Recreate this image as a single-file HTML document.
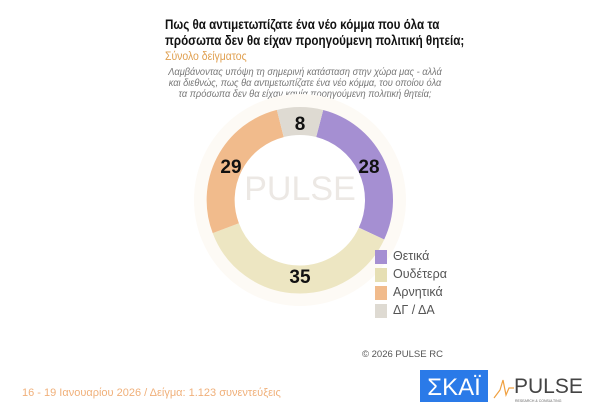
<!DOCTYPE html>
<html><head><meta charset="utf-8"><style>
body{margin:0;width:600px;height:415px;background:#fff;overflow:hidden;position:relative;font-family:"Liberation Sans",sans-serif}
.t{position:absolute;left:165px;top:16px;font-size:14px;font-weight:bold;color:#111;line-height:16px;white-space:nowrap;transform:scaleX(0.83);transform-origin:0 0}
.s{position:absolute;left:165px;top:49px;font-size:12px;color:#e0a050;white-space:nowrap;transform:scaleX(0.87);transform-origin:0 0}
.q{position:absolute;left:110px;top:67px;width:390px;text-align:center;font-size:10.5px;font-style:italic;color:#777;line-height:11px;white-space:nowrap;transform:scaleX(0.88);transform-origin:50% 0}
.lg{position:absolute;left:375px;font-size:12.5px;color:#555;height:16px;line-height:16px}
.lg i{display:inline-block;width:12px;height:14px;vertical-align:middle;margin-right:6px}
</style></head><body>
<div class="t">Πως θα αντιμετωπίζατε ένα νέο κόμμα που όλα τα<br>πρόσωπα δεν θα είχαν προηγούμενη πολιτική θητεία;</div>
<div class="s">Σύνολο δείγματος</div>
<div class="q">Λαμβάνοντας υπόψη τη σημερινή κατάσταση στην χώρα μας - αλλά<br>και διεθνώς, πως θα αντιμετωπίζατε ένα νέο κόμμα, του οποίου όλα<br>τα πρόσωπα δεν θα είχαν καμία προηγούμενη πολιτική θητεία;</div>
<svg width="600" height="415" style="position:absolute;left:0;top:0">
<circle cx="300" cy="200" r="99" fill="none" stroke="#fdfaf5" stroke-width="14"/>
<g fill="none" stroke-width="28">
<path d="M319.7,123.5 A79,79 0 0 1 371.5,233.6" stroke="#a58fd2"/>
<path d="M371.5,233.6 A79,79 0 0 1 225.8,228.2" stroke="#ede6c2"/>
<path d="M225.8,228.2 A79,79 0 0 1 280.3,123.5" stroke="#f1bb8c"/>
<path d="M280.3,123.5 A79,79 0 0 1 319.7,123.5" stroke="#dedad2"/>
</g>
<text x="300" y="200" text-anchor="middle" font-size="34" fill="#ece8e4" font-family="Liberation Sans">PULSE</text>
<g font-family="Liberation Sans" font-weight="bold" font-size="19" fill="#111" text-anchor="middle">
<text x="300" y="130">8</text><text x="369" y="173">28</text><text x="231" y="173">29</text><text x="300" y="283">35</text>
</g>
<text x="362" y="357" font-size="9.5" fill="#555" font-family="Liberation Sans">©  2026  PULSE RC</text>
<text x="22" y="396" font-size="11" fill="#f0b07a" font-family="Liberation Sans">16 - 19 Ιανουαρίου 2026  /  Δείγμα:  1.123 συνεντεύξεις</text>
<rect x="420" y="370" width="68" height="32" fill="#2a7ae8"/>
<text x="454" y="395" text-anchor="middle" font-size="24" fill="#fff" font-family="Liberation Sans">ΣΚΑΪ</text>
<polyline points="494,398 500,390 503,380 506,395 509,388 514,388" fill="none" stroke="#f0a040" stroke-width="1.2"/>
<text x="514" y="393" font-size="21" fill="#444" font-family="Liberation Sans">PULSE</text>
<text x="515" y="402" font-size="3.5" fill="#666" font-family="Liberation Sans">RESEARCH &amp; CONSULTING</text>
</svg>
<div class="lg" style="top:248px"><i style="background:#a58fd2"></i>Θετικά</div>
<div class="lg" style="top:266px"><i style="background:#e6dfb4"></i>Ουδέτερα</div>
<div class="lg" style="top:284px"><i style="background:#f1bb8c"></i>Αρνητικά</div>
<div class="lg" style="top:302px"><i style="background:#dedad2"></i>ΔΓ / ΔΑ</div>
</body></html>
